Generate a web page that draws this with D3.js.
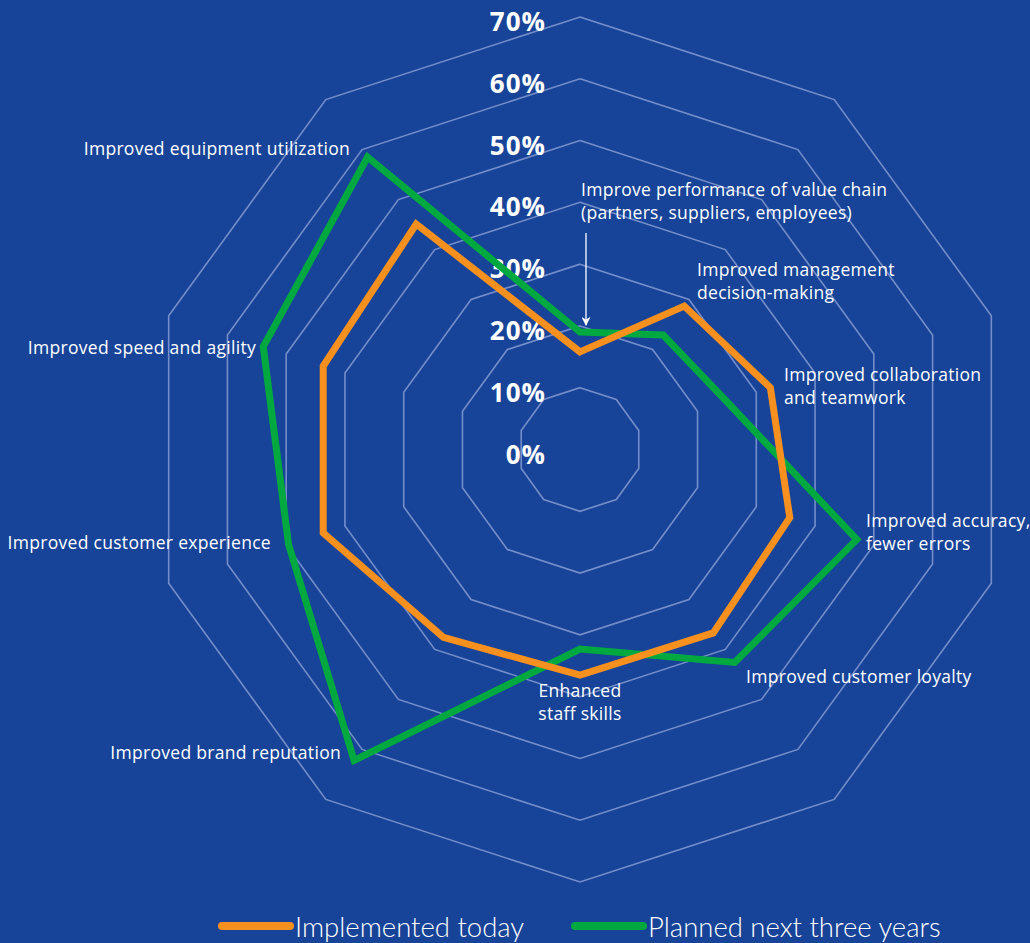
<!DOCTYPE html>
<html>
<head>
<meta charset="utf-8">
<script src="https://cdn.jsdelivr.net/npm/d3@7"></script>
<style>
  html, body { margin: 0; padding: 0; background: #174498; }
  svg { display: block; }
</style>
</head>
<body>
<script>
// axes, clockwise from the top
var categories = [
  "Improve performance of value chain (partners, suppliers, employees)",
  "Improved management decision-making",
  "Improved collaboration and teamwork",
  "Improved accuracy, fewer errors",
  "Improved customer loyalty",
  "Enhanced staff skills",
  "Improved brand reputation",
  "Improved customer experience",
  "Improved speed and agility",
  "Improved equipment utilization"
];
var implementedToday = [15.8, 28.7, 32.4, 35.7, 36.7, 36.5, 37.6, 43.7, 43.7, 45.1];
var plannedNext3 = [19.0, 22.9, 25.0, 47.1, 42.6, 32.3, 62.2, 49.6, 53.9, 58.5];
var gridTicks = [10, 20, 30, 40, 50, 60, 70];
var tickLabels = [0, 10, 20, 30, 40, 50, 60, 70];

// label lines and placement per axis: x, y of first line, anchor
var labelLines = [
  ["Improve performance of value chain", "(partners, suppliers, employees)"],
  ["Improved management", "decision-making"],
  ["Improved collaboration", "and teamwork"],
  ["Improved accuracy,", "fewer errors"],
  ["Improved customer loyalty"],
  ["Enhanced", "staff skills"],
  ["Improved brand reputation"],
  ["Improved customer experience"],
  ["Improved speed and agility"],
  ["Improved equipment utilization"]
];
var labelPos = [
  [581, 190, "start"], [697, 270, "start"], [784, 375, "start"], [866, 521, "start"],
  [746, 677, "start"], [580, 691, "middle"], [341, 753, "end"], [271, 543, "end"],
  [256, 348, "end"], [350, 149, "end"]
];

var W = 1030, H = 943;
var cx = 580, cy = 449.5;

var svg = d3.select("body").append("svg")
  .attr("width", W)
  .attr("height", H);

svg.append("rect").attr("width", W).attr("height", H).attr("fill", "#174498");

var r = d3.scaleLinear().domain([0, 70]).range([0, 432.5]);
var angle = d3.scaleLinear().domain([0, categories.length]).range([0, 2 * Math.PI]);

var g = svg.append("g").attr("transform", "translate(" + cx + "," + cy + ")");

// grid decagons
var ring = d3.lineRadial()
  .angle(function (d, i) { return angle(i); })
  .radius(function (d) { return r(d); })
  .curve(d3.curveLinearClosed);

g.selectAll("path.grid")
  .data(gridTicks)
  .enter()
  .append("path")
  .attr("class", "grid")
  .attr("d", function (t) { return ring(categories.map(function () { return t; })); })
  .attr("fill", "none")
  .attr("stroke", "#7f97cf")
  .attr("stroke-opacity", 0.9)
  .attr("stroke-width", 1.6);

// tick labels
g.selectAll("text.tick")
  .data(tickLabels)
  .enter()
  .append("text")
  .attr("class", "tick")
  .attr("x", -34)
  .attr("y", function (d) { return -r(d) + 5; })
  .attr("dy", "0.35em")
  .attr("text-anchor", "end")
  .attr("fill", "#ffffff")
  .style("font-family", "'Open Sans', sans-serif")
  .style("font-weight", 700)
  .style("font-size", "26px")
  .style("letter-spacing", "1px")
  .text(function (d) { return d + "%"; });

// series
var series = [
  { name: "Planned next three years", values: plannedNext3, color: "#00a940" },
  { name: "Implemented today", values: implementedToday, color: "#f7901e" }
];

g.selectAll("path.series")
  .data(series)
  .enter()
  .append("path")
  .attr("class", "series")
  .attr("d", function (s) { return ring(s.values); })
  .attr("fill", "none")
  .attr("stroke", function (s) { return s.color; })
  .attr("stroke-width", 7)
  .attr("stroke-linejoin", "miter");

// axis labels
var labels = svg.selectAll("text.axis")
  .data(categories)
  .enter()
  .append("text")
  .attr("class", "axis")
  .attr("x", function (d, i) { return labelPos[i][0]; })
  .attr("y", function (d, i) { return labelPos[i][1]; })
  .attr("text-anchor", function (d, i) { return labelPos[i][2]; })
  .attr("fill", "#ffffff")
  .style("font-family", "'Open Sans', sans-serif")
  .style("font-size", "17.5px")
  .style("letter-spacing", "0.3px");

labels.each(function (d, i) {
  var t = d3.select(this);
  labelLines[i].forEach(function (line, j) {
    t.append("tspan")
      .attr("x", labelPos[i][0])
      .attr("dy", j === 0 ? "0.35em" : "23px")
      .text(line);
  });
});

// arrow from the first label down to its axis
var defs = svg.append("defs");
defs.append("marker")
  .attr("id", "arrowhead")
  .attr("viewBox", "0 0 10 10")
  .attr("refX", 9)
  .attr("refY", 5)
  .attr("markerWidth", 9)
  .attr("markerHeight", 9)
  .attr("markerUnits", "userSpaceOnUse")
  .attr("orient", "auto")
  .append("path")
  .attr("d", "M0,0 L10,5 L0,10 L3,5 Z")
  .attr("fill", "#ffffff");

svg.append("line")
  .attr("x1", 586).attr("y1", 233)
  .attr("x2", 586).attr("y2", 325)
  .attr("stroke", "#ffffff")
  .attr("stroke-width", 1.3)
  .attr("marker-end", "url(#arrowhead)");

// legend
var legendItems = [
  { name: "Implemented today", color: "#f7901e", x: 222 },
  { name: "Planned next three years", color: "#00a940", x: 575 }
];
var lg = svg.selectAll("g.legend")
  .data(legendItems)
  .enter()
  .append("g")
  .attr("class", "legend")
  .attr("transform", function (d) { return "translate(" + d.x + ",926)"; });

lg.append("line")
  .attr("x1", 0).attr("x2", 68)
  .attr("y1", 0).attr("y2", 0)
  .attr("stroke", function (d) { return d.color; })
  .attr("stroke-width", 8)
  .attr("stroke-linecap", "round");

lg.append("text")
  .attr("x", 73)
  .attr("y", 1)
  .attr("dy", "0.35em")
  .attr("fill", "#ffffff")
  .style("font-family", "Lato, sans-serif")
  .style("font-weight", 300)
  .style("font-size", "27.5px")
  .text(function (d) { return d.name; });
</script>
</body>
</html>
